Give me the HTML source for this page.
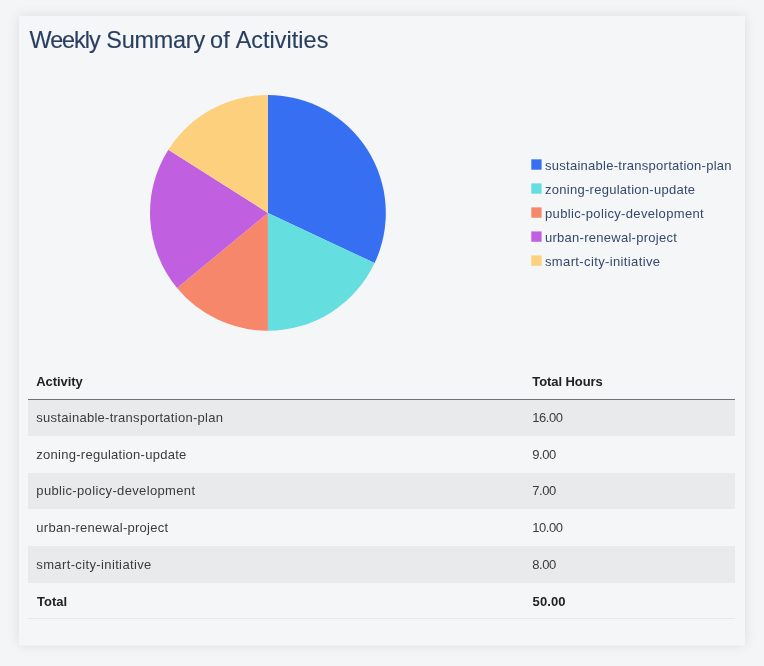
<!DOCTYPE html>
<html lang="en">
<head>
<meta charset="utf-8">
<title>Weekly Summary of Activities</title>
<style>
  html, body { margin: 0; padding: 0; }
  body {
    width: 764px; height: 666px; overflow: hidden; position: relative;
    background: #f3f5f7;
    font-family: "Liberation Sans", sans-serif;
  }
  .card {
    position: absolute; left: 19px; top: 16px; width: 726px; height: 629px;
    background: #f4f6f8;
    box-shadow: 0 0 12px rgba(0,0,0,0.1);
  }
  .card::after { content: ""; position: absolute; left: 0; right: 0; top: 100%; height: 1px; background: rgba(244,246,248,0.5); }
  h2 {
    position: absolute; left: 0; top: 24.6px; margin: 0; width: 400px; height: 30px;
    font-weight: normal; font-size: 23.4px; line-height: 30px;
    color: #2a3f5f; white-space: nowrap; -webkit-text-stroke: 0.15px #2a3f5f;
  }
  h2 span { position: absolute; top: 0; }
  h2 .w1 { left: 29.5px; letter-spacing: -1.02px; }
  h2 .w2 { left: 106.3px; letter-spacing: -0.21px; }
  h2 .w3 { left: 210px; letter-spacing: 0.3px; }
  h2 .w4 { left: 235.7px; letter-spacing: 0.04px; }
  svg.chart { position: absolute; left: 0; top: 0; }
  svg.chart text { font-family: "Liberation Sans", sans-serif; font-size: 13px; fill: #34496b; letter-spacing: 0.27px; }
  table {
    position: absolute; left: 28px; top: 363px; width: 707px;
    border-collapse: collapse; table-layout: fixed;
    font-size: 13px; color: #3b3b3b; letter-spacing: 0.27px;
  }
  th, td { text-align: left; padding: 0.5px 0 0 8.3px; height: 36.6px; line-height: 20px; box-sizing: border-box; vertical-align: middle; white-space: nowrap; }
  th { color: #222; font-weight: bold; border-bottom: 1px solid #6e7175; letter-spacing: -0.08px; padding-top: 2px; }
  td:nth-child(2) { letter-spacing: -0.45px; }
  tbody tr:nth-child(odd) td { background: #e8eaec; }
  tfoot td { font-weight: bold; color: #222; border-bottom: 1px solid #e6e8eb; letter-spacing: 0; padding-top: 2.6px; padding-left: 9px; height: 36px; }
  tfoot td:nth-child(2) { letter-spacing: 0.1px; padding-left: 8.6px; }
  tbody tr:nth-child(3) td:first-child, svg.chart text:nth-of-type(3) { letter-spacing: 0.35px; }
  tbody tr:nth-child(5) td:first-child, svg.chart text:nth-of-type(5) { letter-spacing: 0.37px; }
  col.c1 { width: 496px; }
</style>
</head>
<body>
<div class="card"></div>
<h2><span class="w1">Weekly </span><span class="w2">Summary </span><span class="w3">of </span><span class="w4">Activities</span></h2>
<svg class="chart" width="764" height="350" viewBox="0 0 764 350">
    <path d="M267.9 212.9L267.90 95.00A117.9 117.9 0 0 1 374.58 263.10Z" fill="#376ff2"/>
    <path d="M267.9 212.9L374.58 263.10A117.9 117.9 0 0 1 267.90 330.80Z" fill="#64dede"/>
    <path d="M267.9 212.9L267.90 330.80A117.9 117.9 0 0 1 177.06 288.05Z" fill="#f6876a"/>
    <path d="M267.9 212.9L177.06 288.05A117.9 117.9 0 0 1 168.35 149.73Z" fill="#c060e0"/>
    <path d="M267.9 212.9L168.35 149.73A117.9 117.9 0 0 1 267.90 95.00Z" fill="#fcd07c"/>
    <rect x="531.3" y="159.35" width="10.3" height="10.35" fill="#376ff2"/>
    <text x="545" y="169.7">sustainable-transportation-plan</text>
    <rect x="531.3" y="183.37" width="10.3" height="10.35" fill="#64dede"/>
    <text x="545" y="193.7">zoning-regulation-update</text>
    <rect x="531.3" y="207.39" width="10.3" height="10.35" fill="#f6876a"/>
    <text x="545" y="217.8">public-policy-development</text>
    <rect x="531.3" y="231.41" width="10.3" height="10.35" fill="#c060e0"/>
    <text x="545" y="241.8">urban-renewal-project</text>
    <rect x="531.3" y="255.43" width="10.3" height="10.35" fill="#fcd07c"/>
    <text x="545" y="265.8">smart-city-initiative</text>
</svg>
<table>
    <colgroup><col class="c1"><col></colgroup>
    <thead><tr><th>Activity</th><th>Total Hours</th></tr></thead>
    <tbody>
      <tr><td>sustainable-transportation-plan</td><td>16.00</td></tr>
      <tr><td>zoning-regulation-update</td><td>9.00</td></tr>
      <tr><td>public-policy-development</td><td>7.00</td></tr>
      <tr><td>urban-renewal-project</td><td>10.00</td></tr>
      <tr><td>smart-city-initiative</td><td>8.00</td></tr>
    </tbody>
    <tfoot><tr><td>Total</td><td>50.00</td></tr></tfoot>
</table>
</body>
</html>
